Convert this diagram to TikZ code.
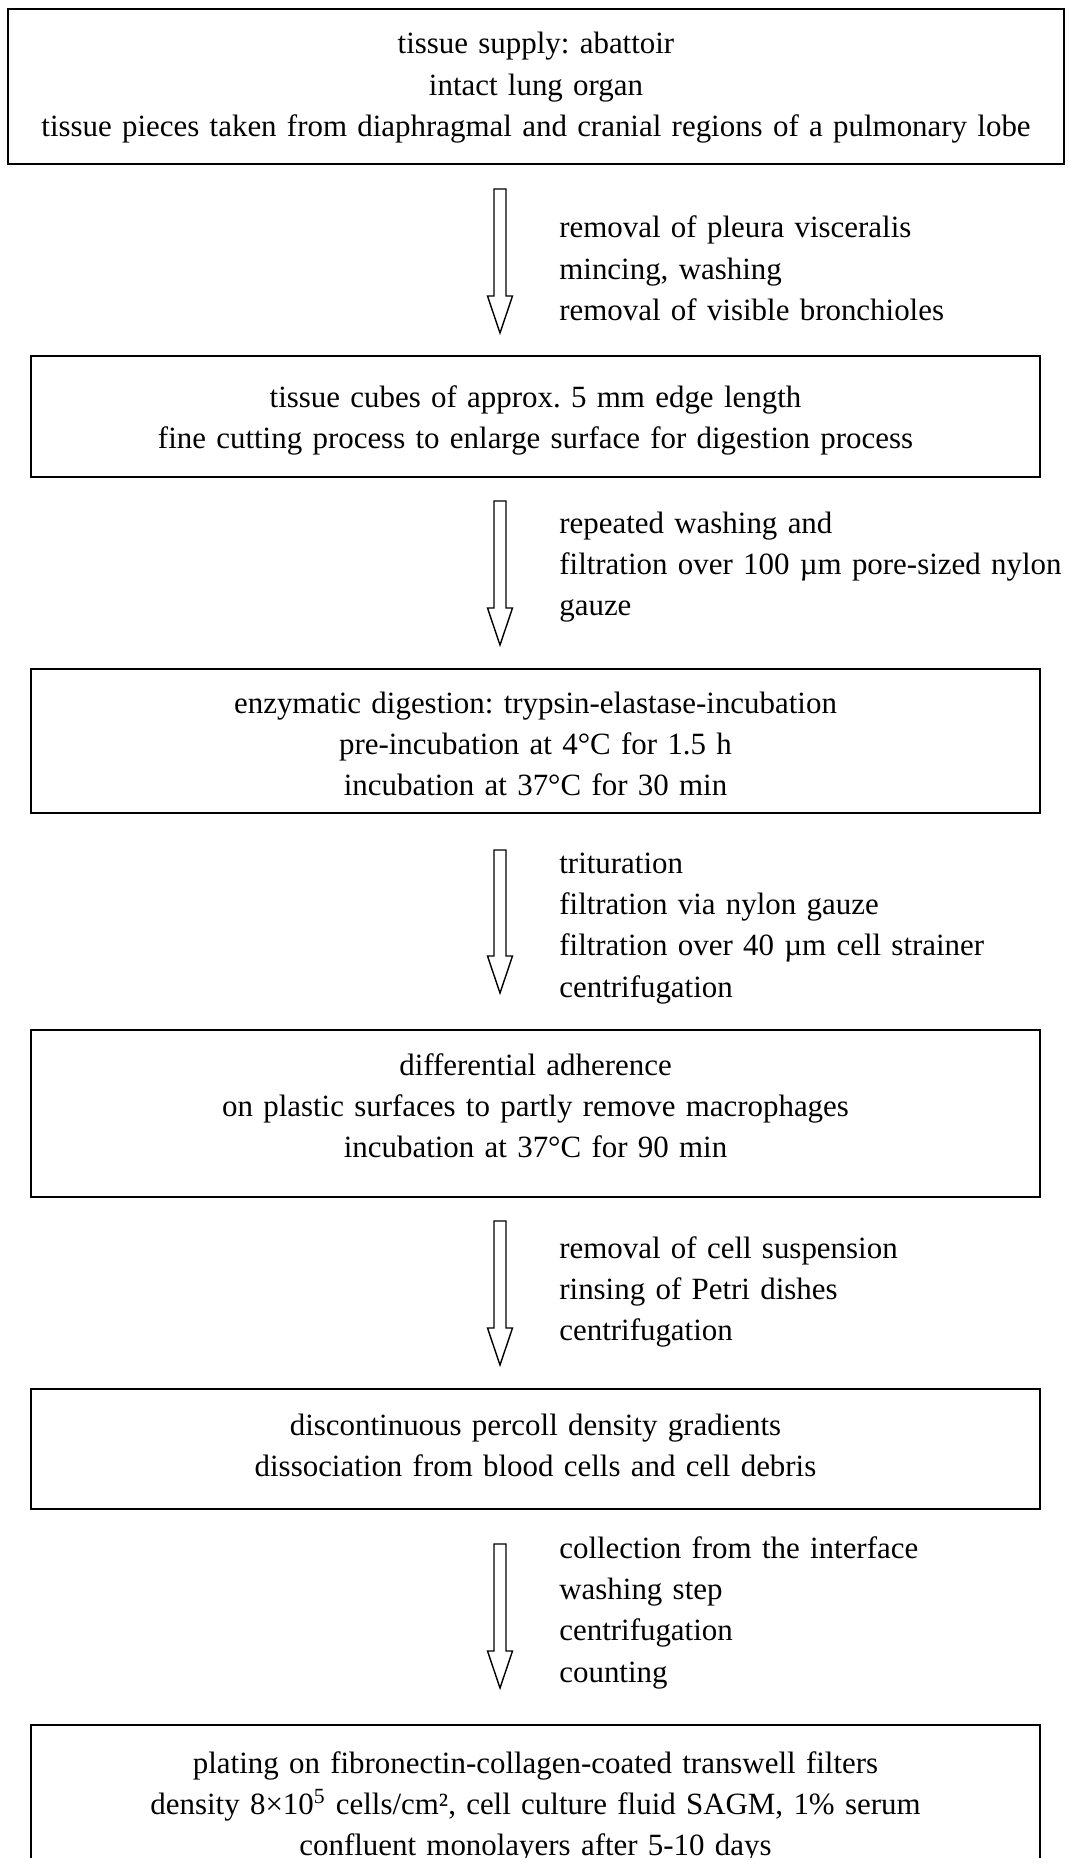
\documentclass[tikz,border=0pt]{standalone}
\usepackage{fontspec}
\setmainfont{Liberation Serif}
\usetikzlibrary{calc,positioning}
\frenchspacing

\tikzset{
  stepbox/.style={draw, line width=0.85pt, inner sep=0pt},
  boxtext/.style={anchor=base, text width=21cm, align=center, inner sep=0pt,
    font=\fontsize{17.6}{23.6}\selectfont},
  sidetext/.style={anchor=base west, text width=12cm, align=left, inner sep=0pt,
    font=\fontsize{17.6}{23.6}\selectfont},
  blockarrow/.style={draw, line width=0.8pt, line join=miter},
}

% hollow block arrow from #1 (tail) to #2 (tip)
\newcommand{\hollowarrow}[2]{%
  \draw[blockarrow] ($(#1)+(-6,0)$) -- ($(#2)+(-6,-37)$) -- ($(#2)+(-12.5,-37)$) -- (#2)
    -- ($(#2)+(12.5,-37)$) -- ($(#2)+(6,-37)$) -- ($(#1)+(6,0)$) -- cycle;}

\begin{document}
\begin{tikzpicture}[x=0.02cm, y=-0.02cm]
    \newcommand{\ax}{500}
    \newcommand{\sx}{559}
    \useasboundingbox (0,0) rectangle (1072,1858);
    \clip (0,0) rectangle (1072,1858);

    % boxes
    \node[stepbox, minimum width=1056*0.02cm, minimum height=155*0.02cm] (b1) at (536,86.5) {};
    \node[stepbox, minimum width=1009*0.02cm, minimum height=121*0.02cm] (b2) at (535.5,416.5) {};
    \node[stepbox, minimum width=1009*0.02cm, minimum height=144*0.02cm] (b3) at (535.5,741) {};
    \node[stepbox, minimum width=1009*0.02cm, minimum height=167*0.02cm] (b4) at (535.5,1113.5) {};
    \node[stepbox, minimum width=1009*0.02cm, minimum height=120*0.02cm] (b5) at (535.5,1449) {};
    \node[stepbox, minimum width=1009*0.02cm, minimum height=175*0.02cm] (b6) at (535.5,1812.5) {};

    % box texts
    \node[boxtext] (t1) at (536,54) {tissue supply: abattoir\\
      intact lung organ\\
      tissue pieces taken from diaphragmal and cranial regions of a pulmonary lobe};
    \node[boxtext] (t2) at (535.5,407) {tissue cubes of approx. 5 mm edge length\\
      fine cutting process to enlarge surface for digestion process};
    \node[boxtext] (t3) at (535.5,713) {enzymatic digestion: trypsin-elastase-incubation\\
      pre-incubation at 4°C for 1.5 h\\
      incubation at 37°C for 30 min};
    \node[boxtext] (t4) at (535.5,1075) {differential adherence\\
      on plastic surfaces to partly remove macrophages\\
      incubation at 37°C for 90 min};
    \node[boxtext] (t5) at (535.5,1435) {discontinuous percoll density gradients\\
      dissociation from blood cells and cell debris};
    \node[boxtext] (t6) at (535.5,1773) {plating on fibronectin-collagen-coated transwell filters\\
      density 8×10\textsuperscript{5} cells/cm², cell culture fluid SAGM, 1\% serum\\
      confluent monolayers after 5-10 days};

    % arrows
    \coordinate (a1s) at (\ax,189);  \coordinate (a1e) at (\ax,333);
    \coordinate (a2s) at (\ax,501);  \coordinate (a2e) at (\ax,645);
    \coordinate (a3s) at (\ax,850);  \coordinate (a3e) at (\ax,993);
    \coordinate (a4s) at (\ax,1221); \coordinate (a4e) at (\ax,1365);
    \coordinate (a5s) at (\ax,1544); \coordinate (a5e) at (\ax,1688);
    \hollowarrow{a1s}{a1e}
    \hollowarrow{a2s}{a2e}
    \hollowarrow{a3s}{a3e}
    \hollowarrow{a4s}{a4e}
    \hollowarrow{a5s}{a5e}

    % step texts
    \node[sidetext] (s1) at (\sx,238) {removal of pleura visceralis\\
      mincing, washing\\
      removal of visible bronchioles};
    \node[sidetext] (s2) at (\sx,533) {repeated washing and\\
      filtration over 100 µm pore-sized nylon\\
      gauze};
    \node[sidetext] (s3) at (\sx,873) {trituration\\
      filtration via nylon gauze\\
      filtration over 40 µm cell strainer\\
      centrifugation};
    \node[sidetext] (s4) at (\sx,1258) {removal of cell suspension\\
      rinsing of Petri dishes\\
      centrifugation};
    \node[sidetext] (s5) at (\sx,1558) {collection from the interface\\
      washing step\\
      centrifugation\\
      counting};
\end{tikzpicture}
\end{document}
